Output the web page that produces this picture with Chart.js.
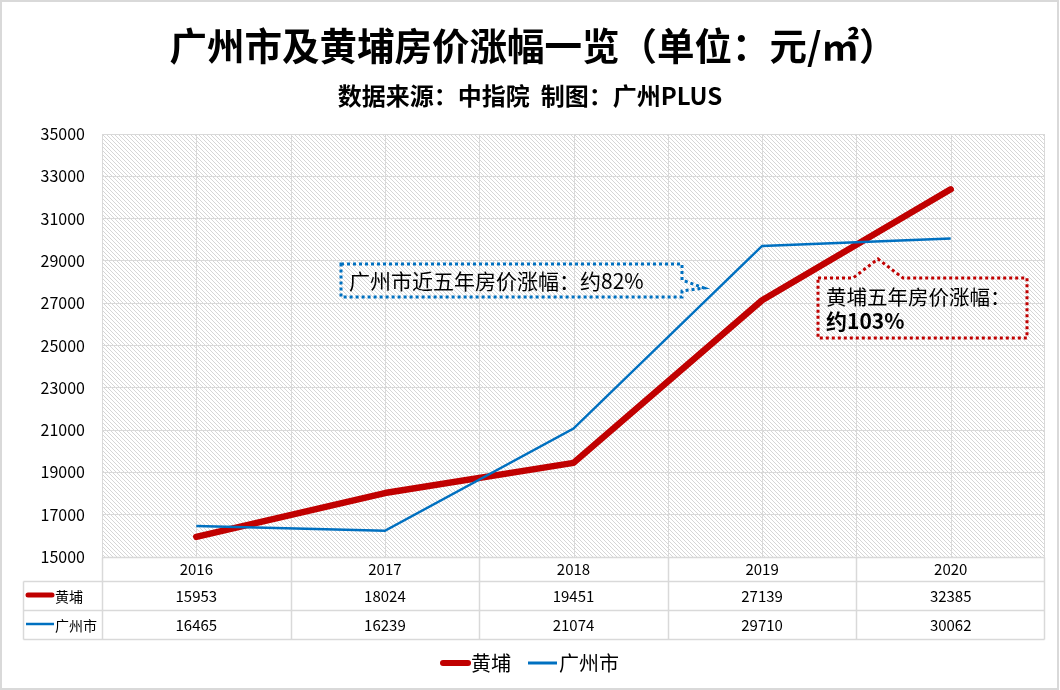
<!DOCTYPE html>
<html><head><meta charset="utf-8">
<script src="https://cdn.jsdelivr.net/npm/chart.js@4/dist/chart.umd.min.js"></script>
<style>html,body{margin:0;padding:0;background:#fff;}#wrap{width:1060px;height:690px;}</style>
</head><body><div id="wrap"><canvas id="c" width="1060" height="690"></canvas></div>
<script>
const categories = ['2016', '2017', '2018', '2019', '2020'];
const huangpu = [15953, 18024, 19451, 27139, 32385];
const guangzhou = [16465, 16239, 21074, 29710, 30062];
const seriesNames = ['黄埔', '广州市'];
const yMin = 15000, yMax = 35000, yStep = 2000;
const titleText = '广州市及黄埔房价涨幅一览（单位：元/㎡）';
const subtitleText = '数据来源：中指院  制图：广州PLUS';
const noteGZ = '广州市近五年房价涨幅：约82%';
const noteHP1 = '黄埔五年房价涨幅：';
const noteHP2 = '约103%';

const FONT = '"Noto Sans CJK SC", "Microsoft YaHei", sans-serif';
const RED = '#C00000', BLUE = '#0070C0', GRID = '#d9d9d9';

function hatchPattern(ctx) {
  const p = document.createElement('canvas');
  p.width = 4; p.height = 4;
  const g = p.getContext('2d');
  g.fillStyle = '#ffffff'; g.fillRect(0, 0, 4, 4);
  g.fillStyle = '#d6d6d6';
  for (let i = 0; i < 4; i++) g.fillRect(i, i, 1, 1);
  return ctx.createPattern(p, 'repeat');
}

const decor = {
  id: 'decor',
  beforeDraw(chart) {
    const ctx = chart.ctx, a = chart.chartArea;
    ctx.save();
    ctx.fillStyle = '#fff';
    ctx.fillRect(0, 0, chart.width, chart.height);
    ctx.strokeStyle = GRID; ctx.lineWidth = 2;
    ctx.strokeRect(1, 1, 1057, 688);
    ctx.fillStyle = hatchPattern(ctx);
    ctx.fillRect(a.left, a.top, a.right - a.left, a.bottom - a.top);
    ctx.fillStyle = '#000';
    ctx.textAlign = 'center'; ctx.textBaseline = 'middle';
    ctx.font = 'bold 37.5px ' + FONT;
    ctx.fillText(titleText, 533, 46);
    ctx.font = 'bold 24px ' + FONT;
    ctx.fillText(subtitleText, 530, 96);
    ctx.restore();
  },
  beforeDatasetsDraw(chart) {
    const ctx = chart.ctx, a = chart.chartArea, xs = chart.scales.x;
    const half = (xs.getPixelForValue(1) - xs.getPixelForValue(0)) / 2;
    ctx.save();
    ctx.strokeStyle = GRID; ctx.lineWidth = 1;
    ctx.beginPath();
    for (let i = 0; i < categories.length; i++) {
      const c = Math.round(xs.getPixelForValue(i)) + 0.5;
      const l = Math.round(xs.getPixelForValue(i) - half) + 0.5;
      ctx.moveTo(l, a.top); ctx.lineTo(l, a.bottom);
      ctx.moveTo(c, a.top); ctx.lineTo(c, a.bottom);
    }
    const r = Math.round(a.right) - 0.5;
    ctx.moveTo(r, a.top); ctx.lineTo(r, a.bottom);
    ctx.stroke();
    ctx.restore();
  },
  afterDraw(chart) {
    const ctx = chart.ctx, a = chart.chartArea, xs = chart.scales.x;
    const half = (xs.getPixelForValue(1) - xs.getPixelForValue(0)) / 2;
    const y0 = Math.round(a.bottom) + 0.5, y1 = y0 + 24, y2 = y1 + 29, y3 = y2 + 29;
    const tl = 23.5, L = Math.round(a.left) + 0.5, R = Math.round(a.right) - 0.5;
    ctx.save();
    ctx.strokeStyle = GRID; ctx.lineWidth = 1.5;
    ctx.beginPath();
    ctx.moveTo(L, y0); ctx.lineTo(R, y0);
    [y1, y2, y3].forEach(y => { ctx.moveTo(tl, y); ctx.lineTo(R, y); });
    ctx.moveTo(tl, y1); ctx.lineTo(tl, y3);
    for (let i = 0; i < categories.length; i++) {
      const l = Math.round(xs.getPixelForValue(i) - half) + 0.5;
      ctx.moveTo(l, y0); ctx.lineTo(l, y3);
    }
    ctx.moveTo(R, y0); ctx.lineTo(R, y3);
    ctx.stroke();
    ctx.fillStyle = '#000'; ctx.textAlign = 'center'; ctx.textBaseline = 'middle';
    ctx.font = '15px ' + FONT;
    const rows = [huangpu, guangzhou];
    for (let i = 0; i < categories.length; i++) {
      const cx = xs.getPixelForValue(i);
      ctx.fillText(categories[i], cx, (y0 + y1) / 2);
      ctx.fillText(String(rows[0][i]), cx, (y1 + y2) / 2);
      ctx.fillText(String(rows[1][i]), cx, (y2 + y3) / 2);
    }
    ctx.lineCap = 'round';
    ctx.strokeStyle = RED; ctx.lineWidth = 5;
    ctx.beginPath(); ctx.moveTo(28, (y1 + y2) / 2 - 1); ctx.lineTo(52, (y1 + y2) / 2 - 1); ctx.stroke();
    ctx.lineCap = 'butt';
    ctx.strokeStyle = BLUE; ctx.lineWidth = 2.5;
    ctx.beginPath(); ctx.moveTo(26, (y2 + y3) / 2 - 1); ctx.lineTo(54, (y2 + y3) / 2 - 1); ctx.stroke();
    ctx.textAlign = 'left'; ctx.font = '14px ' + FONT;
    ctx.fillText(seriesNames[0], 55, (y1 + y2) / 2 + 1);
    ctx.fillText(seriesNames[1], 55, (y2 + y3) / 2 + 1);
    const ly = 663;
    ctx.lineCap = 'round'; ctx.strokeStyle = RED; ctx.lineWidth = 6;
    ctx.beginPath(); ctx.moveTo(443, ly); ctx.lineTo(468, ly); ctx.stroke();
    ctx.lineCap = 'butt'; ctx.strokeStyle = BLUE; ctx.lineWidth = 3;
    ctx.beginPath(); ctx.moveTo(528, ly); ctx.lineTo(557, ly); ctx.stroke();
    ctx.font = '20px ' + FONT; ctx.fillStyle = '#000';
    ctx.fillText(seriesNames[0], 471, ly);
    ctx.fillText(seriesNames[1], 559, ly);
    ctx.restore();
  },
  afterDatasetsDraw(chart) {
    const ctx = chart.ctx;
    ctx.save();
    ctx.lineWidth = 3; ctx.setLineDash([3, 3]); ctx.lineCap = 'butt';
    ctx.strokeStyle = BLUE;
    ctx.beginPath();
    ctx.moveTo(341, 264); ctx.lineTo(682, 264); ctx.lineTo(682, 280);
    ctx.lineTo(704, 288); ctx.lineTo(682, 291); ctx.lineTo(682, 297);
    ctx.lineTo(341, 297); ctx.closePath();
    ctx.stroke();
    ctx.strokeStyle = RED;
    ctx.beginPath();
    ctx.moveTo(818, 278); ctx.lineTo(853, 278); ctx.lineTo(878, 259);
    ctx.lineTo(903, 278); ctx.lineTo(1027, 278); ctx.lineTo(1027, 338);
    ctx.lineTo(818, 338); ctx.closePath();
    ctx.stroke();
    ctx.setLineDash([]);
    ctx.fillStyle = '#000'; ctx.textAlign = 'left'; ctx.textBaseline = 'middle';
    ctx.font = '21px ' + FONT;
    ctx.fillText(noteGZ, 349, 281);
    ctx.font = '20.5px ' + FONT;
    ctx.fillText(noteHP1, 826, 297);
    ctx.font = 'bold 21px ' + FONT;
    ctx.fillText(noteHP2, 826, 321);
    ctx.restore();
  }
};

new Chart(document.getElementById('c'), {
  type: 'line',
  data: {
    labels: categories,
    datasets: [
      { label: seriesNames[0], data: huangpu, borderColor: RED, backgroundColor: RED,
        borderWidth: 6.5, borderCapStyle: 'round', borderJoinStyle: 'round',
        pointRadius: 0, tension: 0, order: 2 },
      { label: seriesNames[1], data: guangzhou, borderColor: BLUE, backgroundColor: BLUE,
        borderWidth: 2.5, borderJoinStyle: 'miter', pointRadius: 0, tension: 0, order: 1 }
    ]
  },
  options: {
    responsive: false, animation: false, devicePixelRatio: 1,
    layout: { padding: { left: 0, right: 15, top: 134, bottom: 133 } },
    plugins: { legend: { display: false }, tooltip: { enabled: false }, title: { display: false } },
    scales: {
      x: { type: 'category', offset: true, display: false },
      y: {
        min: yMin, max: yMax,
        ticks: { stepSize: yStep, color: '#000', padding: 17, font: { family: FONT, size: 16 },
          callback: v => String(v) },
        grid: { color: GRID, drawTicks: false, lineWidth: 1 },
        border: { display: false },
        afterFit(s) { s.width = 102; }
      }
    }
  },
  plugins: [decor]
});
</script></body></html>
